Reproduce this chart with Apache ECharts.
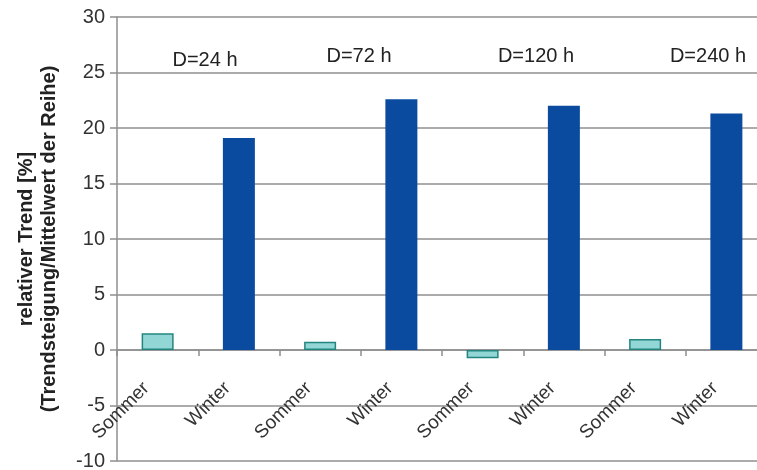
<!DOCTYPE html>
<html>
<head>
<meta charset="utf-8">
<script src="https://cdn.jsdelivr.net/npm/echarts@6/dist/echarts.min.js"></script>
<style>
  html, body { margin: 0; padding: 0; background: #fff; }
  #chart { width: 757px; height: 470px; }
</style>
</head>
<body>
<div id="chart"></div>
<script>
// Relative trend per aggregation duration D, summer vs winter
const durations = ['D=24 h', 'D=72 h', 'D=120 h', 'D=240 h'];
const seasons = ['Sommer', 'Winter'];
const sommer = [1.5, 0.75, -0.75, 1.0];
const winter = [19.1, 22.6, 22.0, 21.3];
const yTicks = [-10, -5, 0, 5, 10, 15, 20, 25, 30];

// Categories alternate Sommer / Winter for each duration
const categories = [];
const sommerData = [];
const winterData = [];
durations.forEach((d, i) => {
  categories.push(seasons[0], seasons[1]);
  sommerData.push(sommer[i], null);
  winterData.push(null, winter[i]);
});

const chart = echarts.init(document.getElementById('chart'));
const font = 'Arial, "Liberation Sans", sans-serif';
const gridColor = '#8f8f8f';

// Duration headings above each pair of bars
const headingPos = [[205, 60], [359, 56], [536, 56], [708, 56]];

chart.setOption({
  animation: false,
  backgroundColor: '#fff',
  grid: {
    left: 117, top: 17, bottom: 9, width: 650,
    containLabel: false,
    outerBoundsMode: 'none'
  },
  xAxis: {
    type: 'category',
    data: categories,
    // category axis sits on the zero line (10 units above the bottom of the range)
    offset: -111,
    axisLine: { onZero: false, lineStyle: { color: gridColor, width: 1.5 } },
    axisTick: { show: true, length: 6, inside: false, lineStyle: { color: gridColor, width: 1.5 } },
    axisLabel: {
      rotate: 45,
      margin: 24,
      interval: 0,
      padding: [0, 16, 0, 0],
      fontFamily: font,
      fontSize: 19,
      color: '#333'
    },
    splitLine: { show: false }
  },
  yAxis: {
    type: 'value',
    min: yTicks[0],
    max: yTicks[yTicks.length - 1],
    interval: 5,
    name: 'relativer Trend [%]\n(Trendsteigung/Mittelwert der Reihe)',
    nameLocation: 'middle',
    nameGap: 56,
    nameTextStyle: {
      fontFamily: font,
      fontWeight: 'bold',
      fontSize: 20,
      lineHeight: 23,
      color: '#222'
    },
    axisLine: { show: true, lineStyle: { color: gridColor, width: 1.5 } },
    axisTick: { show: true, length: 7, lineStyle: { color: gridColor, width: 1.5 } },
    axisLabel: { margin: 12, fontFamily: font, fontSize: 20, color: '#333' },
    splitLine: { show: true, lineStyle: { color: gridColor, width: 1.5 } }
  },
  series: [
    {
      name: seasons[0],
      type: 'bar',
      data: sommerData,
      barWidth: 32,
      barGap: '-100%',
      itemStyle: { color: '#93d6d6', borderColor: '#23857f', borderWidth: 1.5 }
    },
    {
      name: seasons[1],
      type: 'bar',
      data: winterData,
      barWidth: 32,
      barGap: '-100%',
      itemStyle: { color: '#0a4ba0' }
    }
  ],
  graphic: durations.map((d, i) => ({
    type: 'text',
    x: headingPos[i][0],
    y: headingPos[i][1],
    style: {
      text: d,
      fontFamily: font,
      fontSize: 20,
      fill: '#222',
      align: 'center',
      verticalAlign: 'middle'
    }
  }))
});
</script>
</body>
</html>
